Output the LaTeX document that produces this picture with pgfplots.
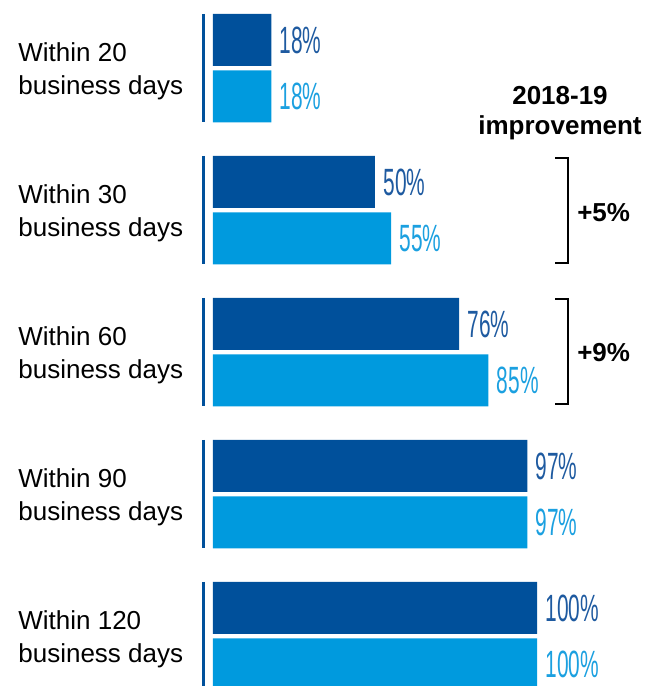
\documentclass[border=0pt]{standalone}
\usepackage{pgfplots}
\pgfplotsset{compat=1.18}
\usepackage{fontspec}
\setmainfont{Liberation Sans}
\newfontfamily\condfont[FakeStretch=0.55]{Liberation Sans}
\definecolor{dblue}{RGB}{0,80,155}
\definecolor{lblue}{RGB}{0,154,222}
\definecolor{dlab}{RGB}{30,90,160}
\definecolor{llab}{RGB}{27,160,224}
\begin{document}
\begin{tikzpicture}
\begin{axis}[name=ax, scale only axis, width=324.5pt, height=343pt,
  xmin=-65.74, xmax=134.57, ymin=-686, ymax=0, axis lines=none, clip=false,
  /pgf/number format/assume math mode=true]
\addplot[xbar, bar width=52, bar shift=0pt, draw=none, fill=dblue,
  nodes near coords={\pgfmathprintnumber{\pgfplotspointmeta}\%},
  every node near coord/.append style={font=\condfont\fontsize{19}{20}\selectfont, text=dlab, anchor=west, inner sep=0pt, xshift=4pt}]
  coordinates {(18,-40) (50,-182) (76,-324) (97,-466) (100,-608)};
\addplot[xbar, bar width=52, bar shift=0pt, draw=none, fill=lblue,
  nodes near coords={\pgfmathprintnumber{\pgfplotspointmeta}\%},
  every node near coord/.append style={font=\condfont\fontsize{19}{20}\selectfont, text=llab, anchor=west, inner sep=0pt, xshift=4pt}]
  coordinates {(18,-96.5) (55,-238.5) (85,-380.5) (97,-522.5) (100,-664.5)};
% left axis segments
\addplot[dblue, line width=1.5pt] coordinates {(-2.78,-14) (-2.78,-122)};
\addplot[dblue, line width=1.5pt] coordinates {(-2.78,-156) (-2.78,-264)};
\addplot[dblue, line width=1.5pt] coordinates {(-2.78,-298) (-2.78,-406)};
\addplot[dblue, line width=1.5pt] coordinates {(-2.78,-440) (-2.78,-548)};
\addplot[dblue, line width=1.5pt] coordinates {(-2.78,-582) (-2.78,-690)};
% brackets
\addplot[black, line width=1.2pt] coordinates {(105.56,-158) (109.57,-158) (109.57,-263) (105.56,-263)};
\addplot[black, line width=1.2pt] coordinates {(105.56,-299) (109.57,-299) (109.57,-404) (105.56,-404)};
% category labels
\foreach \lab/\yy in {20/-71, 30/-213, 60/-355, 90/-497, 120/-639} {
  \edef\tmp{\noexpand\node[anchor=west, align=left, inner sep=0pt, font=\noexpand\fontsize{13}{16.5}\noexpand\selectfont] at (axis cs:-60.19,\yy) {Within \lab\noexpand\\business days};}
  \tmp
}
\node[align=center, font=\bfseries\fontsize{13}{15}\selectfont] at (axis cs:107.1,-113) {2018-19\\improvement};
\node[anchor=west, inner sep=0pt, font=\bfseries\fontsize{13}{15}\selectfont] at (axis cs:112.3,-213) {+5\%};
\node[anchor=west, inner sep=0pt, font=\bfseries\fontsize{13}{15}\selectfont] at (axis cs:112.3,-353) {+9\%};
\end{axis}
\pgfresetboundingbox
\path (ax.south west) rectangle (ax.north east);
\end{tikzpicture}
\end{document}
